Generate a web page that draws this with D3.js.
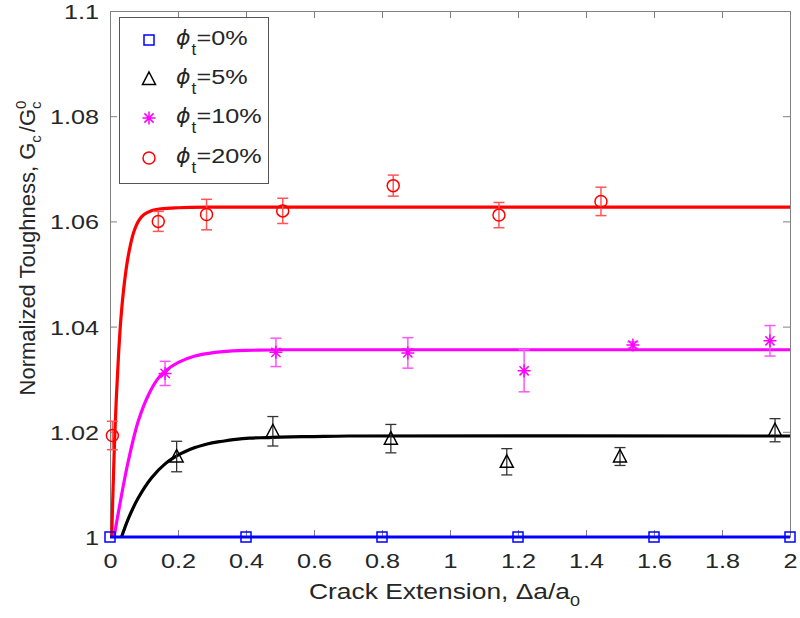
<!DOCTYPE html>
<html><head><meta charset="utf-8">
<script src="https://cdn.jsdelivr.net/npm/d3@7"></script>
<style>body{margin:0;background:#fff}svg{display:block}</style>
</head><body><svg id="c" width="800" height="618"></svg>
<script>
// ---- data ----
const xTicks=[0,0.2,0.4,0.6,0.8,1,1.2,1.4,1.6,1.8,2];
const xTickLabels=["0","0.2","0.4","0.6","0.8","1","1.2","1.4","1.6","1.8","2"];
const yTicks=[1,1.02,1.04,1.06,1.08,1.1];
const yTickLabels=["1","1.02","1.04","1.06","1.08","1.1"];
const legendLabels=["=0%","=5%","=10%","=20%"];

// phi_t = 0%
const x0=[0,0.4,0.8,1.2,1.6,2.0];
const y0=[1,1,1,1,1,1];
// phi_t = 5%
const x5=[0.196,0.479,0.826,1.167,1.5,1.956];
const y5=[1.0153,1.0201,1.0187,1.0143,1.0153,1.0203];
const e5=[0.0029,0.0028,0.0027,0.0025,0.0017,0.0022];
// phi_t = 10%
const x10=[0.162,0.488,0.876,1.218,1.538,1.941];
const y10=[1.0311,1.0351,1.0350,1.0316,1.0365,1.0373];
const e10=[0.0023,0.0027,0.0029,0.0040,0.0006,0.0029];
// phi_t = 20%
const x20=[0.007,0.142,0.284,0.508,0.833,1.144,1.444];
const y20=[1.0193,1.0600,1.0613,1.0620,1.0668,1.0612,1.0638];
const e20=[0.0027,0.0019,0.0029,0.0024,0.0020,0.0024,0.0027];

// fitted curves
const fit20x=[0.005,0.008,0.012,0.018,0.025,0.032,0.04,0.05,0.06,0.07,0.085,0.1,0.12,0.15,0.2,0.3,0.5,2.0];
const fit20y=[1.0,1.0070,1.0155,1.0255,1.0345,1.0415,1.0470,1.0520,1.0555,1.0580,1.0602,1.0613,1.0620,1.0624,1.0626,1.0627,1.0627,1.0627];
const fit10x=[0.012,0.02,0.034,0.054,0.083,0.113,0.142,0.162,0.201,0.25,0.309,0.36,0.42,0.5,0.7,2.0];
const fit10y=[1.0,1.0030,1.0080,1.0145,1.0220,1.0270,1.0302,1.0315,1.0332,1.0344,1.0351,1.0354,1.0355,1.0356,1.0356,1.0356];
const fit5x=[0.034,0.054,0.083,0.123,0.162,0.201,0.22,0.25,0.275,0.3,0.33,0.363,0.41,0.461,0.5,0.6,0.7,2.0];
const fit5y=[1.0,1.0035,1.0074,1.0113,1.0139,1.0156,1.0162,1.0170,1.0175,1.0179,1.0182,1.0185,1.0188,1.0189,1.0190,1.0191,1.0192,1.0192];

// ---- drawing ----
const svg=d3.select("#c");
const L=110,R=790,T=11,B=537;
const x=d3.scaleLinear().domain([0,2]).range([L,R]);
const y=d3.scaleLinear().domain([1,1.1]).range([B,T]);
const SX=1.2;
const FONT="'Liberation Sans', Arial, Helvetica, sans-serif";
const TXT="#262626", AX="#808080";

svg.append("rect").attr("x",L).attr("y",T).attr("width",R-L).attr("height",B-T).attr("fill","#fff");

// axes with inward ticks
function styleAxis(g){g.select(".domain").attr("stroke",AX);g.selectAll(".tick line").attr("stroke",AX);}
const gxB=svg.append("g").attr("transform",`translate(0,${B})`)
  .call(d3.axisBottom(x).tickValues(xTicks).tickFormat((d,i)=>xTickLabels[i]).tickSizeInner(-7).tickSizeOuter(0));
const gxT=svg.append("g").attr("transform",`translate(0,${T})`)
  .call(d3.axisTop(x).tickValues(xTicks).tickFormat("").tickSizeInner(-7).tickSizeOuter(0));
const gyL=svg.append("g").attr("transform",`translate(${L},0)`)
  .call(d3.axisLeft(y).tickValues(yTicks).tickFormat((d,i)=>yTickLabels[i]).tickSizeInner(-7).tickSizeOuter(0));
const gyR=svg.append("g").attr("transform",`translate(${R},0)`)
  .call(d3.axisRight(y).tickValues(yTicks).tickFormat("").tickSizeInner(-7).tickSizeOuter(0));
[gxB,gxT,gyL,gyR].forEach(styleAxis);
gxB.selectAll("text").attr("y",31).attr("dy",null).attr("fill",TXT)
  .style("font-family",FONT).style("font-size","21px").attr("transform",`scale(${SX},1)`);
gyL.selectAll("text").attr("x",-11/SX).attr("y",7.5).attr("dy",null).attr("fill",TXT)
  .style("font-family",FONT).style("font-size","21px").attr("transform",`scale(${SX},1)`);

// fit curves
const line=d3.line().x(d=>x(d[0])).y(d=>y(d[1])).curve(d3.curveCatmullRom.alpha(0.5));
function fit(xs,ys,col){
  svg.append("path").datum(xs.map((v,i)=>[v,ys[i]])).attr("d",line)
    .attr("fill","none").attr("stroke",col).attr("stroke-width",3.2).attr("stroke-linejoin","round");
}
fit(fit20x,fit20y,"#ff0000");
fit(fit10x,fit10y,"#ff00ff");
fit(fit5x,fit5y,"#000000");

// blue baseline series
svg.append("path").datum(x0.map((v,i)=>[v,y0[i]])).attr("d",d3.line().x(d=>x(d[0])).y(d=>y(d[1])))
  .attr("fill","none").attr("stroke","#0000ff").attr("stroke-width",3.2);

// marker shapes
function marker(g,type,cx,cy,col){
  const s=g.append("g").attr("transform",`translate(${cx},${cy})`).attr("fill","none").attr("stroke",col).attr("stroke-width",1.5);
  if(type==="square") s.append("rect").attr("x",-5).attr("y",-5).attr("width",10).attr("height",10);
  if(type==="triangle") s.append("path").attr("d","M0,-7L6.5,5.5L-6.5,5.5Z");
  if(type==="circle") s.append("circle").attr("r",6);
  if(type==="star") s.append("path").attr("d","M0,-6.5V6.5M-6.5,0H6.5M-4.6,-4.6L4.6,4.6M-4.6,4.6L4.6,-4.6");
}
function errbars(xs,ys,es,col,w){
  xs.forEach((v,i)=>{
    const px=x(v), y1=y(ys[i]+es[i]), y2=y(ys[i]-es[i]);
    const g=svg.append("g").attr("stroke",col).attr("stroke-width",w).attr("fill","none");
    g.append("line").attr("x1",px).attr("x2",px).attr("y1",y1).attr("y2",y2);
    g.append("line").attr("x1",px-5.5).attr("x2",px+5.5).attr("y1",y1).attr("y2",y1);
    g.append("line").attr("x1",px-5.5).attr("x2",px+5.5).attr("y1",y2).attr("y2",y2);
  });
}
const mk=svg.append("g");
x0.forEach((v,i)=>marker(mk,"square",x(v),y(y0[i]),"#0000ff"));
errbars(x5,y5,e5,"#333333",1.3);
x5.forEach((v,i)=>marker(mk,"triangle",x(v),y(y5[i]),"#000000"));
errbars(x10,y10,e10,"#ff55ff",1.5);
x10.forEach((v,i)=>marker(mk,"star",x(v),y(y10[i]),"#ff00ff"));
errbars(x20,y20,e20,"#ff5555",1.5);
x20.forEach((v,i)=>marker(mk,"circle",x(v),y(y20[i]),"#ff0000"));
svg.node().appendChild(mk.node());

// legend
const lg=svg.append("g");
lg.append("rect").attr("x",119.5).attr("y",17.5).attr("width",149).attr("height",166)
  .attr("fill","#fff").attr("stroke","#555").attr("stroke-width",1);
const lTypes=["square","triangle","star","circle"];
const lCols=["#0000ff","#000000","#ff00ff","#ff0000"];
const lBase=[45,84,123,163];
legendLabels.forEach((lab,i)=>{
  marker(lg,lTypes[i],149,lBase[i]-5,lCols[i]);
  lg.append("text").attr("x",176).attr("y",lBase[i]).text("\u03D5")
    .style("font-family","'DejaVu Sans', sans-serif").style("font-style","italic").style("font-size","22px").attr("fill",TXT);
  lg.append("text").attr("x",191.5).attr("y",lBase[i]+10).text("t")
    .style("font-family",FONT).style("font-size","17px").attr("fill",TXT);
  lg.append("text").attr("transform",`translate(196.5,${lBase[i]}) scale(${SX},1)`).text(lab)
    .style("font-family",FONT).style("font-size","21px").attr("fill",TXT);
});

// x label
const xl=svg.append("text").attr("transform",`translate(309,599) scale(${SX},1)`)
  .style("font-family",FONT).style("font-size","22px").attr("fill",TXT);
xl.append("tspan").text("Crack Extension, \u0394a/a");
xl.append("tspan").attr("dy",7).style("font-size","15px").text("0");

// y label
const yl=svg.append("text").attr("transform","translate(35,248) rotate(-90)").attr("text-anchor","middle")
  .style("font-family",FONT).style("font-size","22px").attr("fill",TXT);
yl.append("tspan").text("Normalized Toughness, G");
yl.append("tspan").attr("dy",6).style("font-size","15px").text("c");
yl.append("tspan").attr("dy",-6).attr("dx",3).text("/G");
yl.append("tspan").attr("dy",-9).style("font-size","15px").text("0");
yl.append("tspan").attr("dy",15).attr("dx",-8.3).style("font-size","15px").text("c");
</script></body></html>
